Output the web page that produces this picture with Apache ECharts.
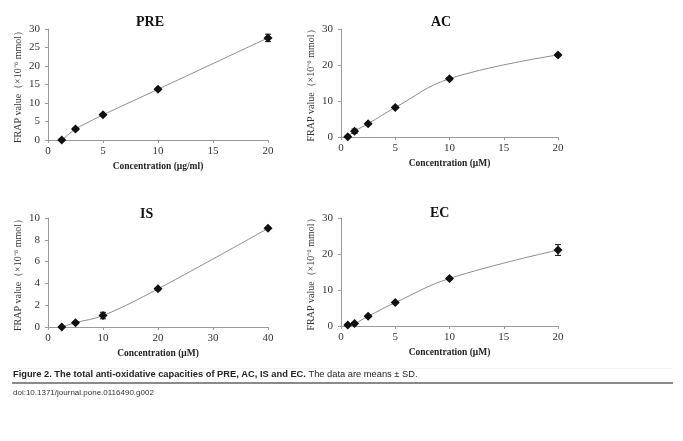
<!DOCTYPE html>
<html>
<head>
<meta charset="utf-8">
<script src="https://cdn.jsdelivr.net/npm/echarts@6/dist/echarts.min.js"></script>
<style>
  html, body { margin: 0; padding: 0; background: #fff; }
  #main { width: 683px; height: 441px; }
</style>
</head>
<body>
<div id="main"></div>
<script>
// concentrations and FRAP values (x10^-6 mmol)
const preX = [1.25, 2.5, 5, 10, 20];
const preY = [0, 3, 6.8, 13.7, 27.6];
const preErr = [0.2, 0.3, 0.3, 0.3, 1.0];

const acX = [0.625, 1.25, 2.5, 5, 10, 20];
const acY = [0.1, 1.6, 3.7, 8.2, 16.2, 22.8];
const acErr = [0.2, 0.6, 0.3, 0.3, 0.3, 0.3];

const isX = [2.5, 5, 10, 20, 40];
const isY = [0, 0.4, 1.05, 3.5, 9.05];
const isErr = [0.05, 0.1, 0.3, 0.1, 0.1];

const ecX = [0.625, 1.25, 2.5, 5, 10, 20];
const ecY = [0.3, 0.7, 2.7, 6.5, 13.2, 21.1];
const ecErr = [0.2, 0.2, 0.3, 0.3, 0.3, 1.5];

const serif = 'Liberation Serif, Times New Roman, serif';
const sans = 'Liberation Sans, Arial, sans-serif';
const yName = 'FRAP value（×10⁻⁶ mmol）';

const grids = [
  { left: 48, top: 29, width: 220, height: 111 },
  { left: 341, top: 29, width: 217, height: 108 },
  { left: 48, top: 218, width: 220, height: 109 },
  { left: 341, top: 218, width: 217, height: 108 }
];

const panels = [
  { title: 'PRE', x: preX, y: preY, err: preErr, xmax: 20, xint: 5, ymax: 30, yint: 5, xname: 'Concentration (μg/ml)', smooth: 0.15 },
  { title: 'AC', x: acX, y: acY, err: acErr, xmax: 20, xint: 5, ymax: 30, yint: 10, xname: 'Concentration (μM)', smooth: 0.4 },
  { title: 'IS', x: isX, y: isY, err: isErr, xmax: 40, xint: 10, ymax: 10, yint: 2, xname: 'Concentration (μM)', smooth: 0.4 },
  { title: 'EC', x: ecX, y: ecY, err: ecErr, xmax: 20, xint: 5, ymax: 30, yint: 10, xname: 'Concentration (μM)', smooth: 0.4 }
];

const axisCommon = {
  axisLine: { lineStyle: { color: '#9a9a9a', width: 1 } },
  axisTick: { lineStyle: { color: '#9a9a9a' }, length: 3 },
  splitLine: { show: false }
};

const xAxis = panels.map((p, i) => Object.assign({}, axisCommon, {
  type: 'value', gridIndex: i, min: 0, max: p.xmax, interval: p.xint,
  name: p.xname, nameLocation: 'middle', nameGap: 22,
  nameTextStyle: { fontFamily: serif, fontWeight: 'bold', fontSize: 9.5, color: '#222' },
  axisLabel: { color: '#333', fontFamily: serif, fontSize: 11, margin: 6 }
}));

const yAxis = panels.map((p, i) => Object.assign({}, axisCommon, {
  type: 'value', gridIndex: i, min: 0, max: p.ymax, interval: p.yint,
  name: yName, nameLocation: 'middle', nameGap: 25,
  nameTextStyle: { fontFamily: serif, fontSize: 10, color: '#333' },
  axisLabel: { color: '#333', fontFamily: serif, fontSize: 11, margin: 8 }
}));

const series = [];
panels.forEach((p, i) => {
  const pts = p.x.map((v, j) => [v, p.y[j]]);
  series.push({
    type: 'line', xAxisIndex: i, yAxisIndex: i, data: pts,
    smooth: p.smooth, symbol: 'diamond', symbolSize: 9,
    itemStyle: { color: '#111' },
    lineStyle: { color: '#8c8c8c', width: 1 },
    z: 3
  });
  series.push({
    type: 'custom', xAxisIndex: i, yAxisIndex: i,
    data: p.x.map((v, j) => [v, p.y[j] - p.err[j], p.y[j] + p.err[j]]),
    renderItem: (params, api) => {
      const lo = api.coord([api.value(0), api.value(1)]);
      const hi = api.coord([api.value(0), api.value(2)]);
      const w = 3;
      const st = { stroke: '#111', lineWidth: 1 };
      return {
        type: 'group',
        children: [
          { type: 'line', shape: { x1: lo[0], y1: lo[1], x2: hi[0], y2: hi[1] }, style: st },
          { type: 'line', shape: { x1: lo[0] - w, y1: lo[1], x2: lo[0] + w, y2: lo[1] }, style: st },
          { type: 'line', shape: { x1: hi[0] - w, y1: hi[1], x2: hi[0] + w, y2: hi[1] }, style: st }
        ]
      };
    },
    z: 4
  });
});

const titles = [
  { text: 'PRE', left: 136, top: 15 },
  { text: 'AC', left: 431, top: 15 },
  { text: 'IS', left: 140, top: 207 },
  { text: 'EC', left: 430, top: 206 }
].map(t => Object.assign(t, {
  padding: 0,
  textStyle: { fontFamily: serif, fontWeight: 'bold', fontSize: 14, color: '#111' }
}));

const option = {
  animation: false,
  backgroundColor: '#fff',
  title: titles,
  grid: grids,
  xAxis: xAxis,
  yAxis: yAxis,
  series: series,
  graphic: [
    { type: 'line', shape: { x1: 12, y1: 368.5, x2: 673, y2: 368.5 }, style: { stroke: '#f2f2f2', lineWidth: 1 } },
    {
      type: 'text', left: 13, top: 370,
      style: {
        text: '{b|Figure 2. The total anti-oxidative capacities of PRE, AC, IS and EC.} The data are means ± SD.',
        rich: {
          b: { fontFamily: sans, fontWeight: 'bold', fontSize: 9.3, fill: '#222' }
        },
        fontFamily: sans, fontSize: 9.3, fill: '#222'
      }
    },
    { type: 'line', shape: { x1: 12, y1: 383, x2: 673, y2: 383 }, style: { stroke: '#8a8a8a', lineWidth: 2 } },
    {
      type: 'text', left: 13, top: 389,
      style: { text: 'doi:10.1371/journal.pone.0116490.g002', fontFamily: sans, fontSize: 8, fill: '#333' }
    }
  ]
};

echarts.init(document.getElementById('main')).setOption(option);
</script>
</body>
</html>
